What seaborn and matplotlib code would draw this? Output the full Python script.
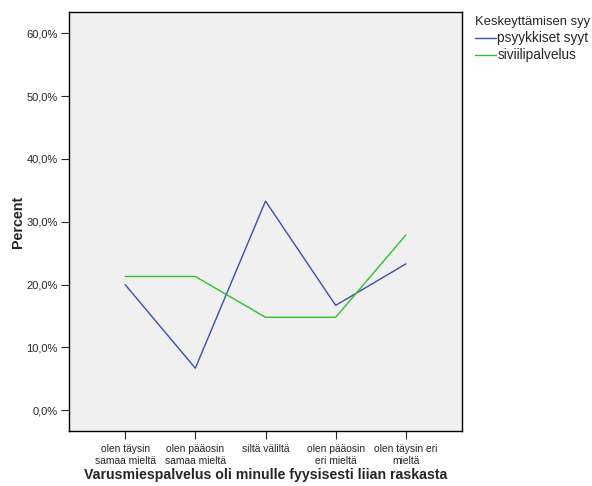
import matplotlib
matplotlib.use("Agg")
import matplotlib.pyplot as plt
import matplotlib.ticker as mticker
from matplotlib.lines import Line2D
import numpy as np
import pandas as pd
import seaborn as sns

categories = ["olen täysin\nsamaa mieltä", "olen pääosin\nsamaa mieltä", "siltä väliltä",
              "olen pääosin\neri mieltä", "olen täysin eri\nmieltä"]
psyykkiset = [20.0, 6.7, 33.3, 16.7, 23.3]
siviili = [21.3, 21.3, 14.8, 14.8, 27.9]
groups = ["psyykkiset syyt", "siviilipalvelus"]
colors = ["#3a50b0", "#2ec02e"]

df = pd.DataFrame({
    "pos": list(range(len(categories))) * 2,
    "pct": psyykkiset + siviili,
    "group": [groups[0]] * len(categories) + [groups[1]] * len(categories),
})

sns.set_style("white")
plt.rcParams["font.family"] = ["Liberation Sans", "DejaVu Sans"]

fig = plt.figure(figsize=(5.92, 4.86), dpi=100)
ax = fig.add_axes([69 / 592, 55 / 486, 393 / 592, 419 / 486])
ax.set_facecolor("#f0f0f0")

sns.lineplot(data=df, x="pos", y="pct", hue="group", palette=colors,
             linewidth=1.0, ax=ax, legend=False, sort=False)

ax.set_xlim(-0.8, 4.8)
ax.set_ylim(-3.3, 63.4)
ax.set_xticks(range(len(categories)))
ax.set_xticklabels(categories, fontsize=7.4, linespacing=1.25)
ax.set_yticks(np.arange(0, 61, 10))
ax.yaxis.set_major_formatter(mticker.FuncFormatter(lambda v, p: f"{v:.1f}%".replace(".", ",")))
ax.tick_params(axis="y", labelsize=8, length=6, width=0.8, direction="out", left=True, pad=2)
ax.tick_params(axis="x", length=6, width=0.8, direction="out", bottom=True, pad=3)
for s in ax.spines.values():
    s.set_color("black")
    s.set_linewidth(1.0)

ax.set_xlabel("Varusmiespalvelus oli minulle fyysisesti liian raskasta", fontsize=10.2, fontweight="bold", labelpad=2)
ax.set_ylabel("Percent", fontsize=10.3, fontweight="bold", labelpad=1)

handles = [Line2D([], [], color=c, lw=1.0) for c in colors]
leg = fig.legend(handles, groups, title="Keskeyttämisen syy", loc="upper left",
                 bbox_to_anchor=(468 / 592, 1 - 9 / 486), frameon=False, fontsize=9.8,
                 title_fontsize=9.4, handlelength=1.5, handletextpad=0.1, labelspacing=0.22,
                 borderpad=0.55, borderaxespad=0)
leg._legend_box.align = "left"

fig.savefig("out.png", dpi=100)
